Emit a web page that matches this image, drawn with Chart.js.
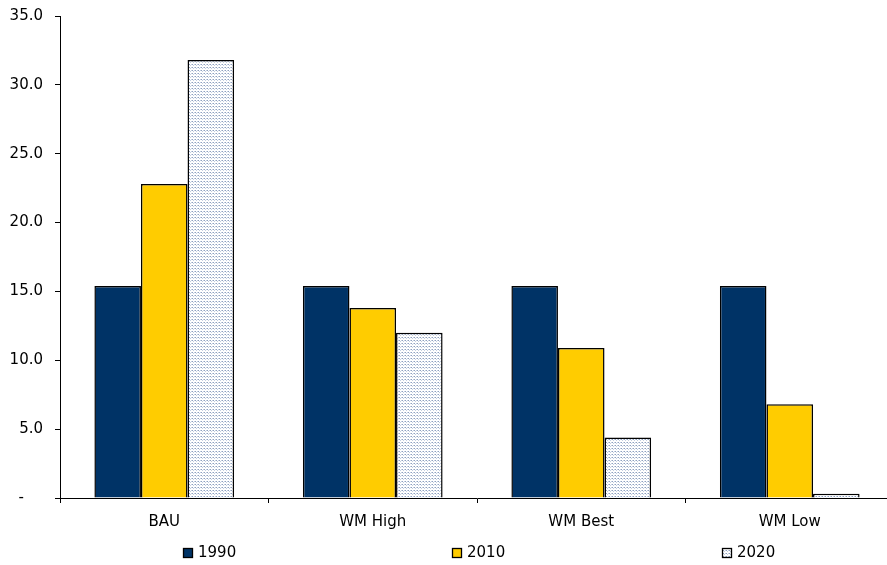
<!DOCTYPE html>
<html>
<head>
<meta charset="utf-8">
<script src="https://cdn.jsdelivr.net/npm/chart.js@4/dist/chart.umd.min.js"></script>
<style>
  html, body { margin: 0; padding: 0; background: #fff; overflow: hidden; }
  #wrap { width: 887px; height: 565px; overflow: hidden; }
  #c { display: block; margin-top: -5px; }
</style>
</head>
<body>
<div id="wrap"><canvas id="c" width="894" height="570"></canvas></div>
<script>
// Scenario categories and values per year
const categories = ['BAU', 'WM High', 'WM Best', 'WM Low'];
const seriesNames = ['1990', '2010', '2020'];
const values1990 = [15.4, 15.4, 15.4, 15.4];
const values2010 = [22.8, 13.8, 10.9, 6.8];
const values2020 = [31.8, 12.0, 4.4, 0.3];
const yTicks = [0, 5, 10, 15, 20, 25, 30, 35];

const FONT = 'DejaVu Sans';

// Fine dotted fill used for the 2020 bars
function makeDots() {
  const t = document.createElement('canvas');
  t.width = 3; t.height = 3;
  const g = t.getContext('2d');
  g.fillStyle = '#ffffff';
  g.fillRect(0, 0, 3, 3);
  g.fillStyle = '#8ea0bf';
  g.fillRect(0, 0, 1, 1);
  g.fillStyle = '#c4cfe0';
  g.fillRect(1, 1, 1, 1);
  g.fillRect(2, 0, 1, 1);
  return document.getElementById('c').getContext('2d').createPattern(t, 'repeat');
}
const dots = makeDots();
const fills = ['#003366', '#ffcc00', dots];

// Legend row spread across the bottom
const bottomLegend = {
  id: 'bottomLegend',
  afterDraw(chart) {
    const ctx = chart.ctx;
    const xs = [183, 452, 722];
    const y = 553;
    ctx.save();
    ctx.font = '15px "' + FONT + '"';
    ctx.textBaseline = 'middle';
    seriesNames.forEach((name, i) => {
      ctx.fillStyle = fills[i];
      ctx.fillRect(xs[i], y, 9, 9);
      ctx.strokeStyle = '#000';
      ctx.lineWidth = 1.3;
      ctx.strokeRect(xs[i] + 0.5, y + 0.5, 9, 9);
      ctx.fillStyle = '#000';
      ctx.fillText(name, xs[i] + 15, y + 5);
    });
    ctx.restore();
  }
};

new Chart(document.getElementById('c'), {
  type: 'bar',
  data: {
    labels: categories,
    datasets: [
      { label: seriesNames[0], data: values1990, backgroundColor: fills[0] },
      { label: seriesNames[1], data: values2010, backgroundColor: fills[1] },
      { label: seriesNames[2], data: values2020, backgroundColor: fills[2] }
    ].map(d => Object.assign(d, {
      borderColor: '#000', borderWidth: 1.5,
      categoryPercentage: 0.67, barPercentage: 1.0
    }))
  },
  options: {
    responsive: false,
    animation: false,
    layout: { padding: { top: 5, right: 0, left: 0, bottom: 0 } },
    plugins: { legend: { display: false }, tooltip: { enabled: false } },
    scales: {
      x: {
        grid: { drawOnChartArea: false, tickLength: 5, color: '#000', offset: true },
        border: { color: '#000', width: 1 },
        ticks: { color: '#000', font: { family: FONT, size: 15 }, padding: 10, maxRotation: 0 },
        afterFit(s) { s.height = 67; }
      },
      y: {
        min: 0, max: 35,
        afterBuildTicks(s) { s.ticks = yTicks.map(v => ({ value: v })); },
        grid: { drawOnChartArea: false, tickLength: 5, color: '#000' },
        border: { color: '#000', width: 1 },
        ticks: {
          color: '#000', font: { family: FONT, size: 15 }, padding: 12,
          callback: v => v === 0 ? '-    ' : v.toFixed(1)
        },
        afterFit(s) { s.width = 60; }
      }
    }
  },
  plugins: [bottomLegend]
});
</script>
</body>
</html>
